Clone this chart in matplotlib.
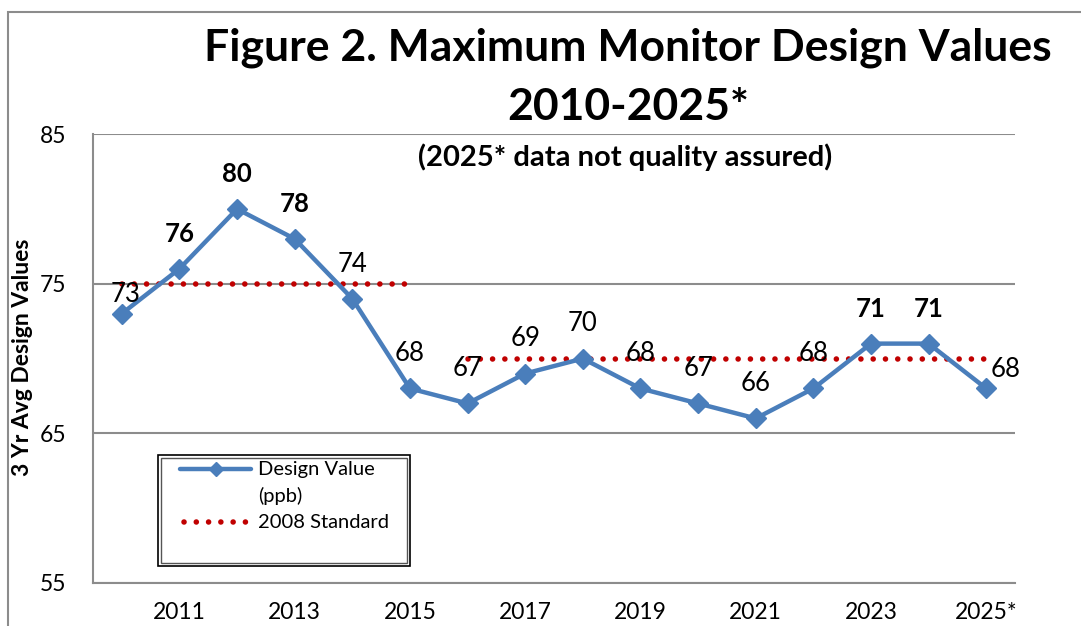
import numpy as np
import matplotlib
matplotlib.use('Agg')
import matplotlib.pyplot as plt
from matplotlib.patches import Rectangle
from matplotlib.lines import Line2D

plt.rcParams['font.family'] = ['Lato', 'DejaVu Sans']

years = list(range(2010, 2026))
design_values = [73, 76, 80, 78, 74, 68, 67, 69, 70, 68, 67, 66, 68, 71, 71, 68]
standard = [75, 75, 75, 75, 75, 75, 70, 70, 70, 70, 70, 70, 70, 70, 70, 70]
tick_years = [2011, 2013, 2015, 2017, 2019, 2021, 2023, 2025]
tick_labels = ['2011', '2013', '2015', '2017', '2019', '2021', '2023', '2025*']

blue = '#4A7EBB'
red = '#C00000'
grid_gray = '#8C8C8C'
W, H = 1081, 626

fig = plt.figure(figsize=(10.81, 6.26), dpi=100)
ax = fig.add_axes([0.086, 0.0687, 0.853, 0.717])

def fx(px):
    return px / W

def fy(py):
    return 1 - py / H

# outer chart border
fig.patches.append(Rectangle((fx(8), -0.1), 1.2, fy(12) + 0.1, transform=fig.transFigure,
                             fill=False, edgecolor=grid_gray, linewidth=1.5))

dots = (0, (0.01, 2.2))

# standard line, broken between 2015 and 2016
std = np.array(standard, dtype=float)
seg1 = np.where(np.array(years) <= 2015, std, np.nan)
seg2 = np.where(np.array(years) >= 2016, std, np.nan)
for seg in (seg1, seg2):
    ax.plot(years, seg, color=red, linestyle=dots, linewidth=4,
            dash_capstyle='round', zorder=2)

ax.plot(years, design_values, color=blue, linewidth=3.2, marker='D', markersize=10,
        markerfacecolor=blue, markeredgecolor=blue, zorder=3)

# data labels, bold when above the standard
for i, (yr, v) in enumerate(zip(years, design_values)):
    bold = v > standard[i]
    dx, dy = 0, 25
    if yr == 2010:
        dx, dy = 3, 14
    if yr == years[-1]:
        dx, dy = 14, 14
    ax.annotate(str(v), (yr, v), xytext=(dx, dy), textcoords='offset points',
                ha='center', va='center', fontsize=18.5,
                fontweight='bold' if bold else 'normal', zorder=4)

ax.set_xlim(2009.5, 2025.5)
ax.set_ylim(55, 85)
ax.set_yticks([55, 65, 75, 85])
ax.set_xticks(tick_years)
ax.set_xticklabels(tick_labels)
ax.tick_params(axis='both', length=0, labelsize=16.5)
ax.tick_params(axis='y', pad=19)
ax.tick_params(axis='x', pad=14)
ax.yaxis.grid(True, color=grid_gray, linewidth=1.5)
ax.set_axisbelow(True)
for s in ['top', 'right']:
    ax.spines[s].set_visible(False)
for s in ['left', 'bottom']:
    ax.spines[s].set_color(grid_gray)
    ax.spines[s].set_linewidth(1.5)

ax.set_ylabel('3 Yr Avg Design Values', fontsize=16.5, fontweight='bold')
ax.yaxis.set_label_coords((33 - 93) / 922, (583 - 357) / 449)

fig.text(0.581, fy(48), 'Figure 2. Maximum Monitor Design Values', ha='center', va='center',
         fontsize=32, fontweight='bold')
fig.text(0.581, fy(107), '2010-2025*', ha='center', va='center', fontsize=32, fontweight='bold')
fig.text(fx(625), fy(157), '(2025* data not quality assured)', ha='center', va='center',
         fontsize=21, fontweight='bold')

# legend with double border, drawn by hand
fig.patches.append(Rectangle((fx(158), fy(566)), fx(410) - fx(158), fy(455) - fy(566),
                             transform=fig.transFigure, facecolor='white',
                             edgecolor='black', linewidth=1.2, zorder=5))
fig.patches.append(Rectangle((fx(161), fy(563)), fx(407) - fx(161), fy(458) - fy(563),
                             transform=fig.transFigure, fill=False,
                             edgecolor='#555555', linewidth=1, zorder=5))
fig.add_artist(Line2D([fx(180), fx(216), fx(251)], [fy(469)] * 3, color=blue, linewidth=3.2,
                      marker='D', markersize=7, markevery=[1], solid_capstyle='round',
                      transform=fig.transFigure, zorder=6))
fig.add_artist(Line2D([fx(184), fx(246)], [fy(522)] * 2, color=red, linestyle=dots,
                      linewidth=4, dash_capstyle='round', transform=fig.transFigure, zorder=6))
fig.text(fx(258), fy(469), 'Design Value', ha='left', va='center', fontsize=14.5, zorder=6)
fig.text(fx(258), fy(496), '(ppb)', ha='left', va='center', fontsize=14.5, zorder=6)
fig.text(fx(258), fy(522), '2008 Standard', ha='left', va='center', fontsize=14.5, zorder=6)

fig.savefig('out.png', dpi=100)
